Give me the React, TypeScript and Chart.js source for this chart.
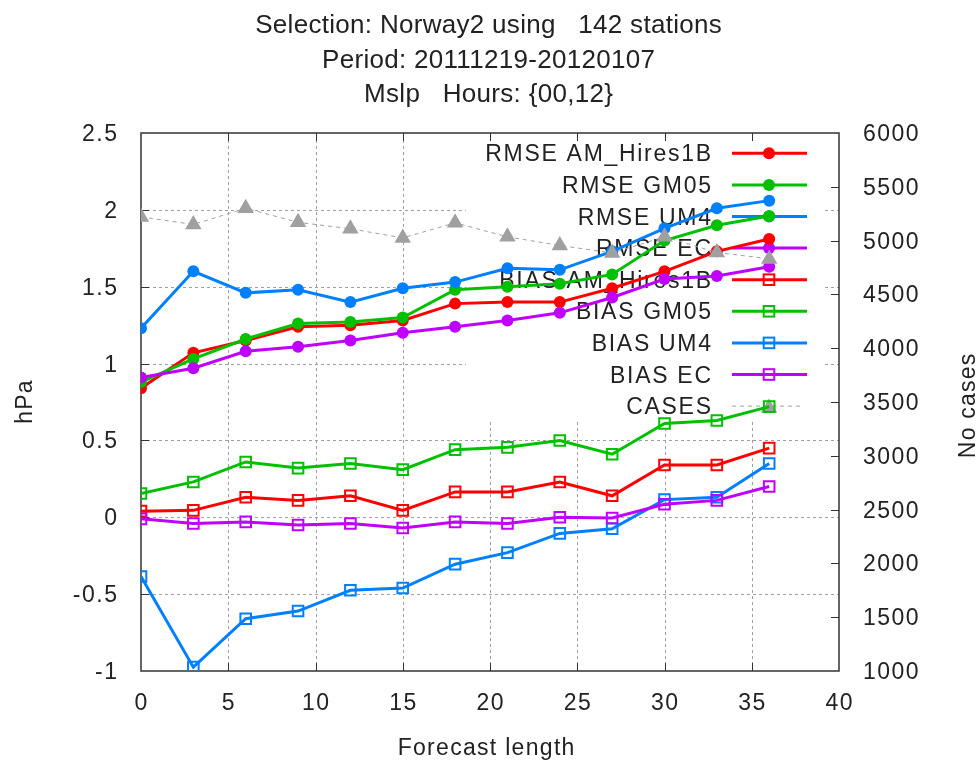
import { useEffect, useRef } from "react";
import { Chart, registerables } from "chart.js";

Chart.register(...registerables);

// Forecast lead times (hours)
const leadTimes = [0, 3, 6, 9, 12, 15, 18, 21, 24, 27, 30, 33, 36];

// Mean sea level pressure scores (hPa)
const rmseAmHires1B = [0.84, 1.07, 1.15, 1.24, 1.25, 1.28, 1.39, 1.4, 1.4, 1.49, 1.6, 1.73, 1.81];
const rmseGm05 = [0.88, 1.03, 1.16, 1.26, 1.27, 1.3, 1.48, 1.5, 1.52, 1.58, 1.8, 1.9, 1.96];
const rmseUm4 = [1.23, 1.6, 1.46, 1.48, 1.4, 1.49, 1.53, 1.62, 1.61, 1.73, 1.88, 2.01, 2.06];
const rmseEc = [0.91, 0.97, 1.08, 1.11, 1.15, 1.2, 1.24, 1.28, 1.33, 1.43, 1.55, 1.57, 1.63];
const biasAmHires1B = [0.04, 0.045, 0.13, 0.11, 0.14, 0.045, 0.165, 0.165, 0.23, 0.14, 0.34, 0.34, 0.45];
const biasGm05 = [0.155, 0.23, 0.36, 0.32, 0.35, 0.31, 0.44, 0.455, 0.5, 0.41, 0.61, 0.63, 0.72];
const biasUm4 = [-0.385, -0.975, -0.66, -0.61, -0.475, -0.46, -0.305, -0.23, -0.105, -0.075, 0.115, 0.13, 0.35];
const biasEc = [-0.01, -0.04, -0.03, -0.05, -0.04, -0.07, -0.03, -0.04, 0.0, -0.005, 0.085, 0.11, 0.2];

// Number of cases (right axis)
const cases = [5220, 5150, 5300, 5170, 5110, 5025, 5165, 5035, 4955, 4885, 5035, 4890, 4830];

// Axis ticks
const xTicks = [0, 5, 10, 15, 20, 25, 30, 35, 40];
const yTicks = [-1, -0.5, 0, 0.5, 1, 1.5, 2, 2.5];
const yTickLabels = ["-1", "-0.5", "0", "0.5", "1", "1.5", "2", "2.5"];
const y2Ticks = [1000, 1500, 2000, 2500, 3000, 3500, 4000, 4500, 5000, 5500, 6000];

const titleLines = [
  "Selection: Norway2 using   142 stations",
  "Period: 20111219-20120107",
  "Mslp   Hours: {00,12}",
];
const xTitle = "Forecast length";
const yTitle = "hPa";
const y2Title = "No cases";

const RED = "#ff0000";
const GREEN = "#00c000";
const BLUE = "#0080ff";
const PURPLE = "#c000ff";
const GRAY = "#a0a0a0";
const INK = "#222222";
const FRAME = "#333333";
const FONT = '"Liberation Sans", Arial, sans-serif';

type Series = {
  label: string;
  values: number[];
  color: string;
  kind: "rmse" | "bias" | "cases";
};

const series: Series[] = [
  { label: "RMSE AM_Hires1B", values: rmseAmHires1B, color: RED, kind: "rmse" },
  { label: "RMSE GM05", values: rmseGm05, color: GREEN, kind: "rmse" },
  { label: "RMSE UM4", values: rmseUm4, color: BLUE, kind: "rmse" },
  { label: "RMSE EC", values: rmseEc, color: PURPLE, kind: "rmse" },
  { label: "BIAS AM_Hires1B", values: biasAmHires1B, color: RED, kind: "bias" },
  { label: "BIAS GM05", values: biasGm05, color: GREEN, kind: "bias" },
  { label: "BIAS UM4", values: biasUm4, color: BLUE, kind: "bias" },
  { label: "BIAS EC", values: biasEc, color: PURPLE, kind: "bias" },
  { label: "CASES", values: cases, color: GRAY, kind: "cases" },
];

const CIRCLE_R = 6;
const SQUARE_R = 7.5;
const TRIANGLE_R = 9.5;

function drawText(
  ctx: CanvasRenderingContext2D,
  s: string,
  x: number,
  y: number,
  size: number,
  align: "left" | "center" | "right",
  spacing: number,
  rotate = 0
) {
  ctx.save();
  ctx.font = `${size}px ${FONT}`;
  (ctx as any).letterSpacing = `${spacing}px`;
  ctx.fillStyle = INK;
  ctx.textBaseline = "alphabetic";
  ctx.textAlign = "left";
  ctx.translate(x, y);
  if (rotate) ctx.rotate(rotate);
  const w = ctx.measureText(s).width - spacing;
  const dx = align === "center" ? -w / 2 : align === "right" ? -w : 0;
  ctx.fillText(s, dx, 0);
  ctx.restore();
}

function drawMarker(ctx: CanvasRenderingContext2D, kind: Series["kind"], color: string, x: number, y: number) {
  ctx.save();
  ctx.setLineDash([]);
  if (kind === "rmse") {
    ctx.fillStyle = color;
    ctx.beginPath();
    ctx.arc(x, y, CIRCLE_R, 0, Math.PI * 2);
    ctx.fill();
  } else if (kind === "bias") {
    const h = SQUARE_R * Math.SQRT1_2;
    ctx.strokeStyle = color;
    ctx.lineWidth = 2;
    ctx.strokeRect(x - h, y - h, 2 * h, 2 * h);
  } else {
    ctx.fillStyle = color;
    ctx.beginPath();
    let rad = 0;
    for (let i = 0; i < 3; i++) {
      const px = x + Math.sin(rad) * TRIANGLE_R;
      const py = y - Math.cos(rad) * TRIANGLE_R;
      if (i === 0) ctx.moveTo(px, py);
      else ctx.lineTo(px, py);
      rad += (2 * Math.PI) / 3;
    }
    ctx.closePath();
    ctx.fill();
  }
  ctx.restore();
}

// Key box geometry inside the plot frame
const KEY = { left: 466, right: 822, bottom: 421, textRight: 711, sampleFrom: 732, sampleTo: 807, marker: 769, firstRow: 153.3, rowStep: 31.6 };

const framePlugin = {
  id: "gnuplotFrame",
  beforeDatasetsDraw(chart: any) {
    const { ctx, chartArea: a, scales } = chart;
    const x = scales.x;
    const y = scales.y;
    const y2 = scales.y2;

    // dotted grid
    ctx.save();
    ctx.strokeStyle = GRAY;
    ctx.lineWidth = 1;
    ctx.setLineDash([3, 3]);
    xTicks.slice(1, -1).forEach((v) => {
      const px = Math.round(x.getPixelForValue(v)) + 0.5;
      ctx.beginPath();
      ctx.moveTo(px, a.bottom);
      ctx.lineTo(px, a.top);
      ctx.stroke();
    });
    yTicks.slice(1, -1).forEach((v) => {
      const py = Math.round(y.getPixelForValue(v)) + 0.5;
      ctx.beginPath();
      ctx.moveTo(a.left, py);
      ctx.lineTo(a.right, py);
      ctx.stroke();
    });
    ctx.restore();

    // opaque key background
    ctx.save();
    ctx.fillStyle = "#ffffff";
    ctx.fillRect(KEY.left, a.top + 1, KEY.right - KEY.left, KEY.bottom - a.top - 1);
    ctx.restore();

    // frame and inward tick marks
    ctx.save();
    ctx.strokeStyle = FRAME;
    ctx.lineWidth = 1.5;
    ctx.strokeRect(a.left, a.top, a.right - a.left, a.bottom - a.top);
    ctx.lineWidth = 1;
    const tl = 8;
    xTicks.slice(1, -1).forEach((v) => {
      const px = Math.round(x.getPixelForValue(v)) + 0.5;
      ctx.beginPath();
      ctx.moveTo(px, a.bottom);
      ctx.lineTo(px, a.bottom - tl);
      ctx.moveTo(px, a.top);
      ctx.lineTo(px, a.top + tl);
      ctx.stroke();
    });
    yTicks.slice(1, -1).forEach((v) => {
      const py = Math.round(y.getPixelForValue(v)) + 0.5;
      ctx.beginPath();
      ctx.moveTo(a.left, py);
      ctx.lineTo(a.left + tl, py);
      ctx.stroke();
    });
    y2Ticks.slice(1, -1).forEach((v) => {
      const py = Math.round(y2.getPixelForValue(v)) + 0.5;
      ctx.beginPath();
      ctx.moveTo(a.right, py);
      ctx.lineTo(a.right - tl, py);
      ctx.stroke();
    });
    ctx.restore();

    // key entries
    series.forEach((s, i) => {
      const ry = KEY.firstRow + i * KEY.rowStep;
      drawText(ctx, s.label, KEY.textRight, ry + 8, 23, "right", 1.7);
      ctx.save();
      ctx.strokeStyle = s.color;
      if (s.kind === "cases") {
        ctx.lineWidth = 1;
        ctx.setLineDash([4, 4]);
      } else {
        ctx.lineWidth = 3;
      }
      ctx.beginPath();
      ctx.moveTo(KEY.sampleFrom, ry);
      ctx.lineTo(s.kind === "cases" ? KEY.sampleTo - 4 : KEY.sampleTo, ry);
      ctx.stroke();
      ctx.restore();
      drawMarker(ctx, s.kind, s.color, KEY.marker, s.kind === "cases" ? ry + 2 : ry);
    });
  },
  afterDraw(chart: any) {
    const { ctx, chartArea: a, scales } = chart;
    const x = scales.x;
    const y = scales.y;
    const y2 = scales.y2;

    // title block
    const baselines = [33, 67.5, 101.5];
    titleLines.forEach((t, i) => drawText(ctx, t, 488.5, baselines[i], 26, "center", 0.3));

    // tick labels
    xTicks.forEach((v) => drawText(ctx, String(v), x.getPixelForValue(v), 710, 23, "center", 1.5));
    yTicks.forEach((v, i) => drawText(ctx, yTickLabels[i], 117, y.getPixelForValue(v) + 8, 23, "right", 1.5));
    y2Ticks.forEach((v) => drawText(ctx, String(v), 863, y2.getPixelForValue(v) + 8, 23, "left", 1.5));

    // axis titles
    drawText(ctx, xTitle, 486, 755, 23, "center", 1.3);
    drawText(ctx, yTitle, 31.5, (a.top + a.bottom) / 2, 23, "center", 1.2, -Math.PI / 2);
    drawText(ctx, y2Title, 975, (a.top + a.bottom) / 2 + 4, 23, "center", 1.2, -Math.PI / 2);
  },
};

export default function App() {
  const ref = useRef<HTMLCanvasElement>(null);

  useEffect(() => {
    const datasets = series.map((s, i) => {
      const base: any = {
        label: s.label,
        data: leadTimes.map((t, k) => ({ x: t, y: s.values[k] })),
        borderColor: s.color,
        backgroundColor: s.color,
        tension: 0,
        order: -i,
        yAxisID: s.kind === "cases" ? "y2" : "y",
      };
      if (s.kind === "rmse") {
        Object.assign(base, {
          borderWidth: 3,
          pointStyle: "circle",
          pointRadius: CIRCLE_R,
          pointBorderWidth: 0,
          pointBackgroundColor: s.color,
        });
      } else if (s.kind === "bias") {
        Object.assign(base, {
          borderWidth: 3,
          pointStyle: "rect",
          pointRadius: SQUARE_R,
          pointBorderWidth: 2,
          pointBorderColor: s.color,
          pointBackgroundColor: "rgba(0,0,0,0)",
        });
      } else {
        Object.assign(base, {
          borderWidth: 1,
          borderDash: [4, 4],
          pointStyle: "triangle",
          pointRadius: TRIANGLE_R,
          pointBorderWidth: 0,
          pointBackgroundColor: s.color,
        });
      }
      return base;
    });

    const hiddenAxis = {
      ticks: { display: false },
      grid: { display: false },
      border: { display: false },
      title: { display: false },
    };

    const chart = new Chart(ref.current as HTMLCanvasElement, {
      type: "line",
      data: { datasets },
      options: {
        animation: false,
        responsive: true,
        maintainAspectRatio: false,
        layout: { padding: { top: 133, left: 0, right: 0, bottom: 0 } },
        plugins: {
          legend: { display: false },
          title: { display: false },
          tooltip: { enabled: false },
        },
        scales: {
          x: {
            type: "linear",
            min: 0,
            max: 40,
            ...hiddenAxis,
            afterBuildTicks: (s: any) => {
              s.ticks = xTicks.map((v) => ({ value: v }));
            },
            afterFit: (s: any) => {
              s.height = 91;
            },
          },
          y: {
            type: "linear",
            position: "left",
            min: -1,
            max: 2.5,
            ...hiddenAxis,
            afterBuildTicks: (s: any) => {
              s.ticks = yTicks.map((v) => ({ value: v }));
            },
            afterFit: (s: any) => {
              s.width = 141;
            },
          },
          y2: {
            type: "linear",
            position: "right",
            min: 1000,
            max: 6000,
            ...hiddenAxis,
            afterBuildTicks: (s: any) => {
              s.ticks = y2Ticks.map((v) => ({ value: v }));
            },
            afterFit: (s: any) => {
              s.width = 140;
            },
          },
        },
      } as any,
      plugins: [framePlugin],
    });

    return () => chart.destroy();
  }, []);

  return (
    <div style={{ position: "fixed", left: 0, top: 0, width: 979, height: 762, background: "#ffffff" }}>
      <canvas ref={ref} />
    </div>
  );
}
